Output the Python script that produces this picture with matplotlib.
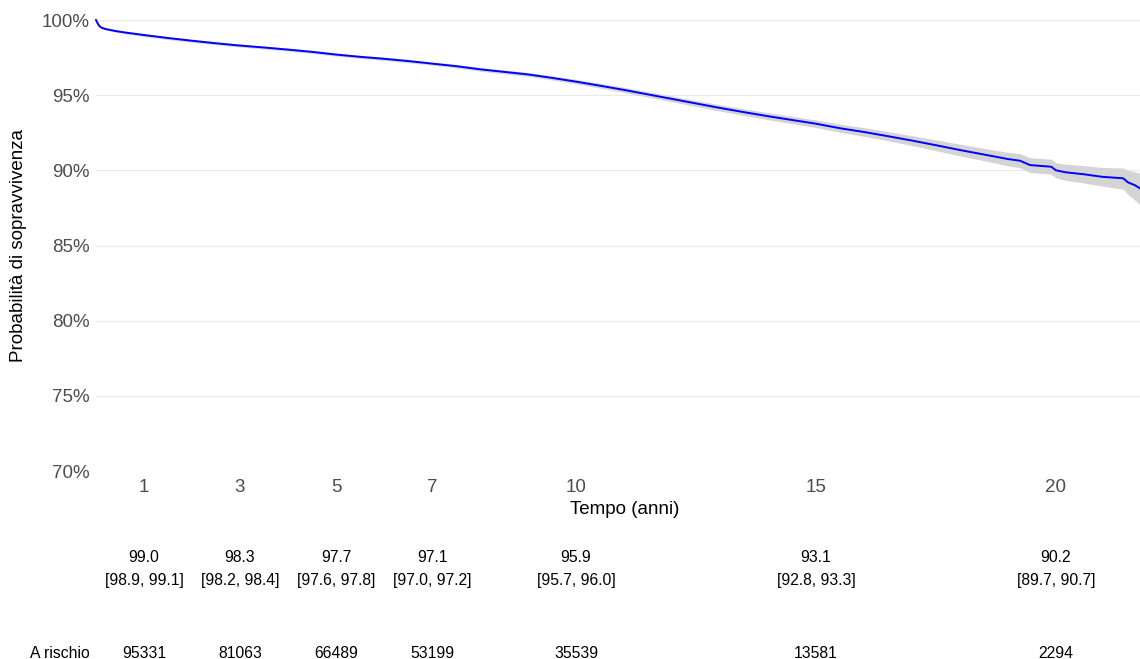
#!/usr/bin/env python3

# Curva di sopravvivenza (Kaplan-Meier) con banda di confidenza e tabella sotto l'asse x

import matplotlib
matplotlib.use("Agg")
import matplotlib.pyplot as plt
from matplotlib.ticker import FuncFormatter
from matplotlib.transforms import blended_transform_factory

OUTPUT_FILENAME = "out.png"

# valori (anni, % sopravvivenza, limiti dell'intervallo)
time = [0, 0.03, 0.07, 0.12, 0.2, 0.4, 0.6,
        1, 1.5, 2, 2.5, 3, 3.5, 4, 4.5, 5, 5.5, 6, 6.5, 7, 7.5, 8, 8.5, 9, 9.5, 10,
        10.5, 11, 11.5, 12, 12.5, 13, 13.5, 14, 14.5, 15, 15.5, 16,
        16.5, 17, 17.5, 18, 18.5, 19, 19.25, 19.46, 19.9, 20.0, 20.2, 20.6, 20.96,
        21.4, 21.5, 21.65, 21.75]
surv = [100, 99.8, 99.6, 99.48, 99.4, 99.27, 99.17,
        99.0, 98.8, 98.62, 98.45, 98.3, 98.17, 98.03, 97.88, 97.7, 97.55, 97.42, 97.27,
        97.1, 96.93, 96.72, 96.55, 96.38, 96.15, 95.9, 95.63, 95.35, 95.05, 94.75,
        94.45, 94.15, 93.87, 93.6, 93.35, 93.1, 92.8, 92.55,
        92.27, 91.98, 91.67, 91.35, 91.05, 90.75, 90.64, 90.35, 90.24, 90.0, 89.87,
        89.73, 89.57, 89.47, 89.2, 89.0, 88.8]
lower = [100, 99.76, 99.55, 99.42, 99.33, 99.2, 99.09,
         98.9, 98.7, 98.52, 98.35, 98.2, 98.07, 97.93, 97.78, 97.6, 97.45, 97.31, 97.16,
         97.0, 96.81, 96.60, 96.42, 96.25, 96.01, 95.75, 95.47, 95.18, 94.87, 94.56,
         94.25, 93.94, 93.65, 93.37, 93.11, 92.85, 92.53, 92.26,
         91.97, 91.65, 91.31, 90.96, 90.64, 90.3, 90.17, 89.86, 89.74, 89.5, 89.33,
         89.15, 88.95, 88.75, 88.4, 88.0, 87.7]
upper = [100, 99.84, 99.65, 99.54, 99.47, 99.34, 99.25,
         99.1, 98.9, 98.72, 98.55, 98.4, 98.27, 98.13, 97.98, 97.8, 97.65, 97.53, 97.38,
         97.2, 97.05, 96.84, 96.68, 96.51, 96.29, 96.05, 95.79, 95.52, 95.23, 94.94,
         94.65, 94.36, 94.09, 93.83, 93.59, 93.35, 93.07, 92.84,
         92.57, 92.31, 92.03, 91.74, 91.46, 91.2, 91.11, 90.84, 90.74, 90.5, 90.41,
         90.31, 90.19, 90.15, 90.0, 89.9, 89.8]

# tabella sotto il grafico
table_times = [1, 3, 5, 7, 10, 15, 20]
table_est = ["99.0", "98.3", "97.7", "97.1", "95.9", "93.1", "90.2"]
table_ci = ["[98.9, 99.1]", "[98.2, 98.4]", "[97.6, 97.8]", "[97.0, 97.2]",
            "[95.7, 96.0]", "[92.8, 93.3]", "[89.7, 90.7]"]
at_risk = [95331, 81063, 66489, 53199, 35539, 13581, 2294]

y_ticks = [70, 75, 80, 85, 90, 95, 100]

plt.rcParams['font.family'] = ['Liberation Sans', 'DejaVu Sans']

W, H = 1140, 659
fig = plt.figure(figsize=(W / 100, H / 100), dpi=100)
ax = fig.add_axes([96 / W, 1 - 471 / H, 1044 / W, (471 - 20) / H])

ax.fill_between(time, lower, upper, color="#d4d4d4", linewidth=0, zorder=2)
ax.plot(time, surv, color="#0000ff", linewidth=1.4, zorder=3, clip_on=False)

ax.set_xlim(0, 21.75)
ax.set_ylim(70, 100)
ax.set_yticks(y_ticks)
ax.yaxis.set_major_formatter(FuncFormatter(lambda v, p: f"{v:.0f}%"))
ax.set_xticks(table_times)
ax.grid(axis="y", color="#ebebeb", linewidth=1.0, zorder=0)
ax.set_axisbelow(True)
for s in ax.spines.values():
    s.set_visible(False)
ax.tick_params(axis="both", length=0, labelsize=13.5, labelcolor="#4d4d4d")
ax.tick_params(axis="y", pad=4.5)
ax.tick_params(axis="x", pad=6)

ax.set_ylabel("Probabilità di sopravvivenza", fontsize=13.5, color="black")
ax.yaxis.set_label_coords(-(96 - 19) / 1044, 0.5)
ax.yaxis.label.set_va("center")
ax.set_xlabel("Tempo (anni)", fontsize=13.5, color="black")
ax.xaxis.set_label_coords((625 - 96) / 1044, -(510 - 471) / 451)
ax.xaxis.label.set_va("center")

tr = blended_transform_factory(ax.transData, fig.transFigure)
for t, e, ci, n in zip(table_times, table_est, table_ci, at_risk):
    ax.text(t, 1 - 557 / H, e, transform=tr, ha="center", va="center", fontsize=11.3, clip_on=False)
    ax.text(t, 1 - 580 / H, ci, transform=tr, ha="center", va="center", fontsize=11.3, clip_on=False)
    ax.text(t, 1 - 653 / H, str(n), transform=tr, ha="center", va="center", fontsize=11.3, clip_on=False)
fig.text(90 / W, 1 - 653 / H, "A rischio", ha="right", va="center", fontsize=11.3)

fig.savefig(OUTPUT_FILENAME, dpi=100)
